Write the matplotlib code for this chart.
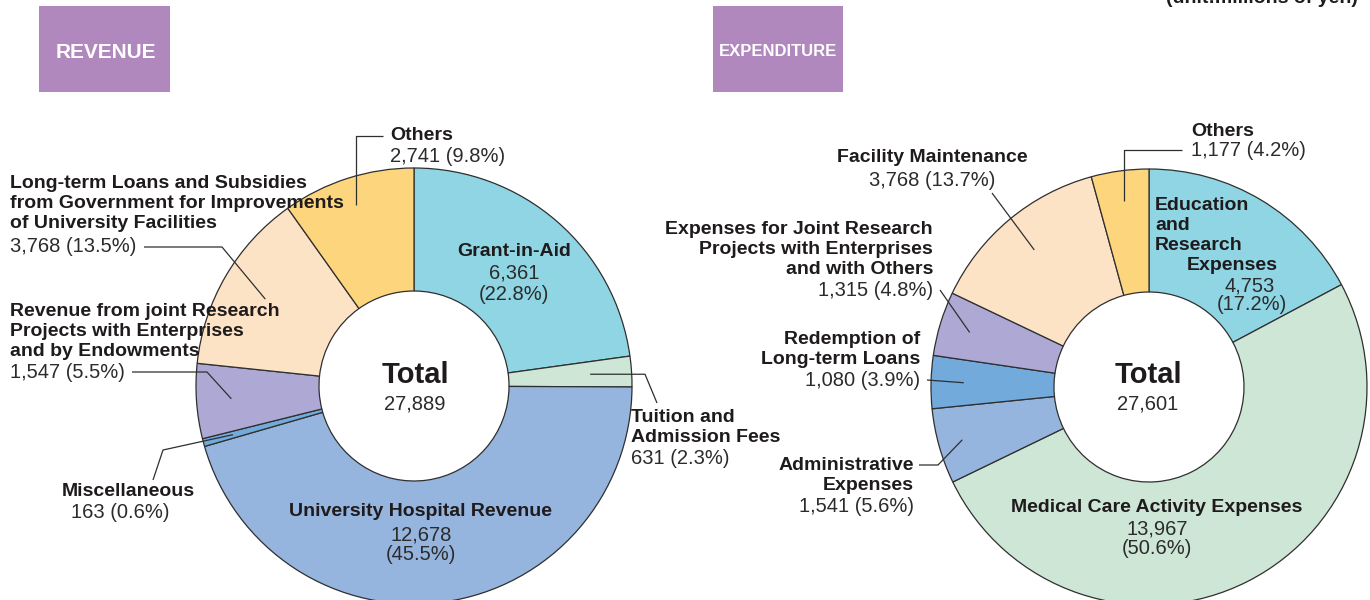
import matplotlib
matplotlib.use("Agg")
import matplotlib.pyplot as plt
from matplotlib.patches import Rectangle
import numpy as np

# ---------------- data ----------------
rev_labels = ["Grant-in-Aid", "Tuition and\nAdmission Fees", "University Hospital Revenue",
              "Miscellaneous",
              "Revenue from joint Research\nProjects with Enterprises\nand by Endowments",
              "Long-term Loans and Subsidies\nfrom Government for Improvements\nof University Facilities",
              "Others"]
rev_values = [6361, 631, 12678, 163, 1547, 3768, 2741]
rev_pcts = [22.8, 2.3, 45.5, 0.6, 5.5, 13.5, 9.8]
rev_total = 27889

exp_labels = ["Education\nand\nResearch\nExpenses", "Medical Care Activity Expenses",
              "Administrative\nExpenses", "Redemption of\nLong-term Loans",
              "Expenses for Joint Research\nProjects with Enterprises\nand with Others",
              "Facility Maintenance", "Others"]
exp_values = [4753, 13967, 1541, 1080, 1315, 3768, 1177]
exp_pcts = [17.2, 50.6, 5.6, 3.9, 4.8, 13.7, 4.2]
exp_total = 27601

section_titles = ["REVENUE", "EXPENDITURE"]
unit_text = "(unit:millions of yen)"

# ---------------- style ----------------
rev_colors = ["#8fd5e3", "#cde6d5", "#95b4de", "#72aadc", "#aea8d4", "#fde3c6", "#fdd57d"]
exp_colors = ["#8fd5e3", "#cde6d5", "#95b4de", "#72aadc", "#aea8d4", "#fde3c6", "#fdd57d"]
TXT = "#1f1b1c"
NUM = "#2b2b2b"
BOLD = ["Liberation Sans", "DejaVu Sans"]
REG = ["Liberation Sans", "DejaVu Sans"]
BSIZE = 14
NSIZE = 14.5

W, H = 1370, 600
fig = plt.figure(figsize=(W / 100, H / 100), dpi=100)
ax = fig.add_axes([0, 0, 1, 1])


def Y(py):
    return H - py


def fmt_val(v, p):
    return f"{v:,} ({p}%)"


def bold(x, py, s, ha="left", size=BSIZE, color=TXT, fam=BOLD):
    ax.text(x, Y(py), s, ha=ha, va="center", fontsize=size, fontweight="bold",
            family=fam, color=color)


def reg(x, py, s, ha="left", size=NSIZE, color=NUM):
    ax.text(x, Y(py), s, ha=ha, va="center", fontsize=size, family=REG, color=color)


def lines(x, py0, text, ha="left", step=20):
    for i, s in enumerate(text.split("\n")):
        bold(x, py0 + i * step, s, ha=ha)


R, r_in = 218, 95
cL = (414, 386)
cR = (1149, 387)

wl, _ = ax.pie(rev_values, colors=rev_colors, startangle=90, counterclock=False,
               center=(cL[0], Y(cL[1])), radius=R,
               wedgeprops=dict(width=R - r_in, edgecolor="#2f2f2f", linewidth=0.9))
wr, _ = ax.pie(exp_values, colors=exp_colors, startangle=90, counterclock=False,
               center=(cR[0], Y(cR[1])), radius=R,
               wedgeprops=dict(width=R - r_in, edgecolor="#2f2f2f", linewidth=0.9))


def anchor(w, c, rr=0.85):
    th = np.deg2rad((w.theta1 + w.theta2) / 2)
    return c[0] + rr * R * np.cos(th), Y(c[1]) + rr * R * np.sin(th)


def leader(pts_px, end):
    xs = [p[0] for p in pts_px] + [end[0]]
    ys = [Y(p[1]) for p in pts_px] + [end[1]]
    ax.plot(xs, ys, color="#2f2f2f", lw=0.9, solid_capstyle="butt", zorder=5)


# ---------------- section boxes ----------------
ax.add_patch(Rectangle((39, Y(92)), 131, 86, color="#b088be", lw=0))
ax.add_patch(Rectangle((713, Y(92)), 130, 86, color="#b088be", lw=0))
bold(106, 52, section_titles[0], ha="center", size=15, color="white")
bold(778, 52, section_titles[1], ha="center", size=12, color="white")
ax.text(1358, Y(3), unit_text, ha="right", va="baseline", fontsize=14, fontweight="bold",
        family=REG, color=TXT)

# ---------------- revenue labels ----------------
# Grant-in-Aid
bold(514, 252, rev_labels[0], ha="center")
reg(514, 273, f"{rev_values[0]:,}", ha="center")
reg(514, 294, f"({rev_pcts[0]}%)", ha="center")
# Tuition
lines(631, 417, rev_labels[1])
reg(631, 459, fmt_val(rev_values[1], rev_pcts[1]))
e = anchor(wl[1], cL, 0.81)
leader([(657, 403), (645, Y(e[1]))], e)
# Hospital
bold(421, 511, rev_labels[2], ha="center")
reg(421, 535, f"{rev_values[2]:,}", ha="center")
reg(421, 555, f"({rev_pcts[2]}%)", ha="center")
# Miscellaneous
bold(128, 491, rev_labels[3], ha="center")
reg(120, 512, fmt_val(rev_values[3], rev_pcts[3]), ha="center")
e = anchor(wl[3], cL, 0.86)
leader([(153, 480), (163, 450)], e)
# Joint research
lines(10, 312, rev_labels[4])
reg(10, 372, fmt_val(rev_values[4], rev_pcts[4]))
e = anchor(wl[4], cL, 0.84)
leader([(132, 372), (207, 372)], e)
# Long-term loans
lines(10, 184, rev_labels[5])
reg(10, 246, fmt_val(rev_values[5], rev_pcts[5]))
e = anchor(wl[5], cL, 0.79)
leader([(144, 247), (222, 247)], e)
# Others
bold(390, 135, rev_labels[6])
reg(390, 157, fmt_val(rev_values[6], rev_pcts[6]))
e = anchor(wl[6], cL, 0.87)
leader([(383, 136), (e[0], 136)], e)
# Total
bold(cL[0] + 1, 375, "Total", ha="center", size=21)
reg(cL[0] + 1, 404, f"{rev_total:,}", ha="center")

# ---------------- expenditure labels ----------------
ed = exp_labels[0].split("\n")
bold(1155, 206, ed[0])
bold(1155, 226, ed[1])
bold(1155, 246, ed[2])
bold(1187, 266, ed[3])
reg(1250, 286, f"{exp_values[0]:,}", ha="center")
reg(1252, 304, f"({exp_pcts[0]}%)", ha="center")
# Medical
bold(1157, 507, exp_labels[1], ha="center")
reg(1157, 529, f"{exp_values[1]:,}", ha="center")
reg(1157, 548, f"({exp_pcts[1]}%)", ha="center")
# Administrative
lines(914, 465, exp_labels[2], ha="right")
reg(914, 506, fmt_val(exp_values[2], exp_pcts[2]), ha="right")
e = anchor(wr[2], cR, 0.89)
leader([(919, 465), (938, 465)], e)
# Redemption
lines(920, 340, exp_labels[3], ha="right")
reg(920, 381, fmt_val(exp_values[3], exp_pcts[3]), ha="right")
e = anchor(wr[3], cR, 0.85)
leader([(927, 380)], e)
# Joint research
lines(933, 229, exp_labels[4], ha="right")
reg(933, 290, fmt_val(exp_values[4], exp_pcts[4]), ha="right")
e = anchor(wr[4], cR, 0.86)
leader([(940, 290)], e)
# Facility
bold(932, 158, exp_labels[5], ha="center")
reg(932, 180, fmt_val(exp_values[5], exp_pcts[5]), ha="center")
e = anchor(wr[5], cR, 0.82)
leader([(992, 193)], e)
# Others
bold(1191, 131, exp_labels[6])
reg(1191, 151, fmt_val(exp_values[6], exp_pcts[6]))
e = anchor(wr[6], cR, 0.86)
leader([(1182, 150), (e[0], 150)], e)
# Total
bold(cR[0] - 1, 375, "Total", ha="center", size=21)
reg(cR[0] - 1, 404, f"{exp_total:,}", ha="center")

ax.set_xlim(0, W)
ax.set_ylim(0, H)
ax.set_aspect("auto")
ax.axis("off")
fig.savefig("out.png", dpi=100)
